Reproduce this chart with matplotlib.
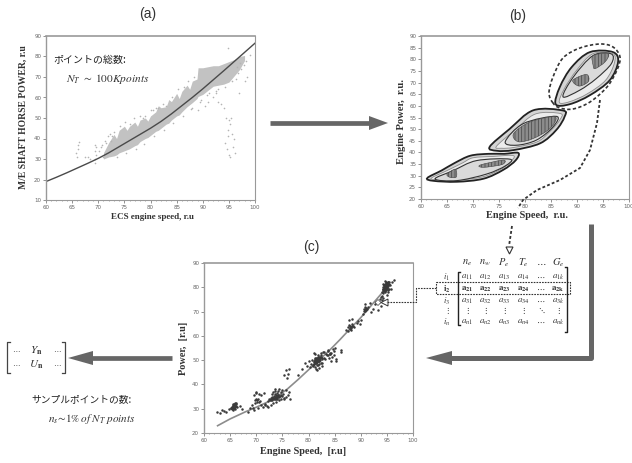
import matplotlib
matplotlib.use("Agg")
import matplotlib.pyplot as plt
from matplotlib.path import Path
from matplotlib.patches import PathPatch, Rectangle, Polygon

plt.rcParams['mathtext.fontset'] = 'stix'
plt.rcParams['font.family'] = ['Liberation Serif', 'DejaVu Sans']
plt.rcParams['hatch.linewidth'] = 0.5
plt.rcParams['hatch.color'] = '#333333'
JP = ['Noto Sans CJK JP', 'DejaVu Sans']
W, H = 632, 463

# ---------------- data (a)
curve_a_x = [60, 62, 64, 66, 68, 70, 72, 74, 76, 78, 80, 82, 84, 86, 88, 90, 92, 94, 96, 98, 100]
curve_a_y = [19, 21.1, 23.3, 25.6, 27.9, 30.3, 33, 36, 39, 42, 45, 48.3, 52, 56, 60, 64.2, 68.6, 73, 77.5, 82, 86.5]
band_x = [71, 72, 73, 73.5, 74, 75, 75.5, 76, 77, 77.5, 78, 79, 79.5, 80, 81, 81.5, 82, 83, 83.5, 84, 85, 85.5, 86, 87, 87.5, 88, 88.9, 89.1, 90, 91, 92, 93, 94, 95, 96, 97, 98]
band_lo = [30, 31, 31.5, 32, 33, 34, 34.5, 35, 36.5, 37, 38.5, 40, 40.5, 41.5, 43.5, 44, 45, 47, 47.5, 49, 51, 51.5, 53, 55.5, 56.5, 57.5, 59.5, 60.5, 61.5, 63.5, 65.5, 66, 66.5, 67.5, 70.5, 73.5, 78]
band_hi = [33, 38, 42, 40, 44, 46, 44, 46, 48, 46, 49, 50, 48.5, 51, 53, 56, 55, 55.5, 59, 58, 62, 59.5, 63, 66, 64, 68, 69, 74.5, 74.5, 75, 75.5, 75.5, 76.5, 77.5, 78.5, 80, 80.5]
sparse_a_x = [66, 66.2, 66.1, 66.3, 65.8, 69.3, 69.4, 69.5, 69.3, 69.6, 69.4, 68, 68.5, 67.5, 71.5, 71.8, 72.2, 72.4, 78.5, 80.5, 81.5, 83,
              88, 89, 90.5, 91, 92, 92.5, 93, 93.5, 94, 94.5, 95, 95.2, 95.5, 94.8, 95.6, 96, 94.3, 94.6, 95.1, 95.8, 96.2, 95.3, 94.9, 97, 98, 98.5, 99, 94.9,
              70.2, 70.6, 71, 70.8, 71.3, 72.6, 73, 74.2, 75.2, 76, 76.8, 78, 79, 80, 81, 82.4, 84.2, 85.2, 86.4, 87.2, 88.4,
              73.6, 75.4, 77.2, 78.8, 80.6, 82.6, 84.4, 86.2, 87.8, 89.4, 90.8, 92.6, 94.2, 95.6, 96.4, 96.8, 97.4, 97.8, 98.2, 96.6, 97.2, 89.6, 91.2, 93]
sparse_a_y = [31, 35, 37, 38.5, 33, 28, 30, 32, 34, 36, 37, 31, 30, 31, 38, 41, 42, 39, 50, 54, 55, 56,
              55, 54, 56, 58, 60, 62, 58, 57, 55, 50, 49, 47, 50, 41, 42, 40, 38, 35, 32, 36, 33, 31, 44, 62, 68, 70, 80.5, 84,
              34, 36, 31, 37, 39, 41, 43, 46, 48, 47, 50, 51, 51, 54, 55, 57, 60, 64, 65, 68, 70,
              31, 33, 35, 37.5, 41, 44, 47.5, 51, 54.5, 58, 61, 63, 65, 68, 69, 72, 74, 76, 78, 75, 77, 59, 62, 64]

# ---------------- data (b) : contour outlines
lobe1_x = [61.2, 64, 66.5, 69.5, 73, 76, 78.7, 78.2, 75.8, 72, 66.9, 62.4]
lobe1_y = [29, 32.3, 35.5, 38.6, 39.4, 39.4, 39.8, 36.6, 32.5, 28.7, 27.4, 27.8]
lobe1_mid_x = [62, 65, 68, 70, 74, 77.8, 77, 75.2, 71.8, 67, 63]
lobe1_mid_y = [29, 32.2, 35.5, 37.7, 38.3, 38.6, 35.5, 32.6, 29.5, 28.2, 28.3]
lobe1_in_x = [62.7, 66.2, 70.7, 77.1, 76.2, 72.6, 66.9]
lobe1_in_y = [28.6, 32.2, 36.5, 37.1, 34.2, 30.7, 27.9]
core1a_x = [65, 66.6, 66.8, 65.6]
core1a_y = [30.6, 32.8, 29.5, 29.3]
core1b_x = [71.4, 75.8, 75.6, 72]
core1b_y = [34.6, 36.7, 34.8, 33.6]
lobe2_x = [73.2, 77, 81.6, 87.3, 87.6, 86, 82.9, 77.8, 74.6]
lobe2_y = [42.4, 50, 58.1, 58, 55.3, 49.6, 43.9, 41, 40.7]
lobe2_mid_x = [74.5, 78, 82, 86.8, 86.7, 85, 82.4, 78, 75.5]
lobe2_mid_y = [42.6, 49.5, 56.5, 56.7, 54, 49.5, 44.6, 42.2, 41.8]
lobe2_in_x = [76.2, 79.7, 86, 85.4, 82.2, 78.4]
lobe2_in_y = [44.6, 52.4, 55.5, 51, 45.3, 43.1]
core2_x = [77.8, 81, 85.8, 84.8, 81.6, 78.7]
core2_y = [48.1, 53.1, 55.3, 50.3, 46, 44.6]
lobe3_x = [85.9, 86.7, 89, 92.5, 96.9, 97.9, 96.3, 92.5, 88.6]
lobe3_y = [60.7, 68.1, 76.7, 83.1, 83.1, 78.9, 71, 64.6, 60.7]
lobe3_mid_x = [86.6, 87.6, 90, 93, 96.8, 97.2, 95.5, 92, 88.6]
lobe3_mid_y = [61.5, 67.5, 75.5, 82.3, 82.6, 78.5, 71, 65.2, 61.8]
lobe3_in_x = [87.3, 89.3, 93.1, 96.6, 96.6, 93.7, 90.5]
lobe3_in_y = [63.9, 72.4, 81.6, 82.3, 78.1, 71.7, 66.7]
core3a_x = [93.1, 96, 95.4, 93.5, 93.1]
core3a_y = [81.6, 82.3, 78.9, 76, 77.4]
core3b_x = [89.2, 91.8, 92.2, 90.4]
core3b_y = [71, 73.5, 70.5, 68.5]
ellipse_px = [(553, 103), (549, 93), (553, 77), (563, 58), (580, 48), (600, 44), (613, 47), (620, 57), (617, 70), (607, 87), (590, 102), (573, 109), (560, 108)]

# ---------------- data (c)
line_c_x = [62.6, 65, 68, 70, 72, 74, 76, 78, 80, 82, 84, 86, 88, 90, 92, 94, 95]
line_c_y = [23, 25.8, 28.8, 30.6, 32.6, 35, 38.2, 42, 46, 50, 54, 58.4, 63, 67.5, 72.5, 77.5, 80]
pts_c_x = [62.5, 63, 63.4, 63.9, 64.3, 64.8, 65.1, 65.3, 65.4, 65.6, 65.7, 65.8, 65.9, 66, 66.1, 66.2, 65.2, 65.5, 65.9, 66.1, 66.3, 65.6, 66.8, 67.2,
           68.4, 68.8, 69.1, 69.3, 69.5, 69.7, 69.8, 70, 70.1, 70.2, 70.4, 70.6, 70.8, 69.6, 70, 70.3, 71, 71.3, 71.5, 71.7, 72, 72.2,
           69.9, 70.5, 71, 71.7, 72.3, 72.4, 72.6, 72.8, 73, 73.1, 73.2, 73.4, 73.5, 73.6, 73.7, 73.8, 74, 74.1, 74.3, 74.5, 74.7, 75, 75.2, 75.4, 75.6, 76, 76.3,
           72.9, 73.2, 73.5, 73.8, 74.2, 74.4, 74.7, 75, 75.3, 73, 73.5, 74, 74.4, 74.8, 73.3, 73.7, 74.1, 72.8, 75.7, 76.4,
           75.4, 75.7, 75.9, 76.1, 76.2, 78, 78.7, 79.3, 79.7, 80, 80.2, 80.4, 80.6, 80.8, 81, 81.1, 81.2, 81.3, 81.4, 81.5, 81.6, 81.7, 81.8, 81.9, 82, 82.1, 82.2, 82.3, 82.4, 82.5, 82.6, 82.7,
           81.2, 81.4, 81.6, 81.8, 82, 82.2, 82.4, 81.5, 81.7, 81.9, 82.1, 82.3, 81.3, 82.6, 80.8, 81, 81.6, 82, 82.5, 82.9, 83, 83.2, 83.5, 83.7, 84, 84.2, 84.4, 84.6, 84.8, 85, 85.3, 83.4, 83.8, 84.1, 84.5, 84.9, 85.2, 86.2, 86.3,
           87.2, 87.5, 87.7, 87.9, 88, 88.2, 88.4, 88.6, 87.8, 88.1, 87.5, 88.3, 88.8, 89.2, 89.5, 89.8, 90, 90.4, 90.6, 90.7, 90.8, 90.9, 91, 91.1, 91.2, 90.8, 91.3, 91.7, 92, 92.4, 92.7, 93, 93.3, 93.6, 93.4, 93.8,
           94, 94.2, 94.3, 94.4, 94.5, 94.6, 94.7, 94.8, 94.9, 95, 95.1, 95.2, 95.3, 95.4, 94.2, 94.4, 94.6, 94.8, 95, 95.2, 95.4, 94.3, 94.5, 94.7, 94.9, 95.1, 95.3, 95.5, 94.1, 94.6, 95, 95.6, 95.8, 96, 96.4, 93.9, 94, 94.2,
           # tight centres of the clusters
           65.4, 65.6, 65.8, 66, 65.5, 65.7, 65.9, 73, 73.3, 73.6, 73.9, 74.2, 73.1, 73.4, 73.7, 74, 72.8, 81, 81.3, 81.6, 81.9, 82.2, 81.1, 81.4, 81.7, 82, 81.5, 81.8, 82.1, 81.2, 83.8, 84.1, 84.4,
           94.3, 94.6, 94.9, 95.2, 94.4, 94.7, 95, 95.3, 94.5, 94.8, 95.1, 94.2, 94.6, 95, 87.9, 88.1, 88.3, 90.9, 91]
pts_c_y = [28.8, 28.2, 29.5, 29.2, 28.7, 29.8, 30.2, 30.8, 29.8, 31.5, 30.5, 32, 31, 32.4, 31.2, 32.5, 30.5, 32, 30, 31.8, 30.9, 29.5, 31, 30,
           28.5, 30.5, 31.5, 30.2, 29.5, 32.5, 33.5, 34, 32.8, 33.4, 33.8, 32.6, 33.3, 35.8, 36.5, 30.4, 31.5, 30.8, 36.5, 32, 31, 33,
           37, 36, 35.5, 31.5, 30.8, 34, 33.5, 34.5, 35, 33.8, 34.6, 35.2, 34, 36, 34.8, 35.5, 34.2, 35.8, 34.7, 35.2, 36.8, 35.4, 36.2, 33.8, 37.8, 35.5, 37,
           33.5, 36.8, 37.5, 33.8, 37.2, 33.5, 34, 37.7, 34.5, 36.2, 38, 36.5, 38.3, 35.5, 32.5, 32.8, 35.6, 31.5, 34.8, 34.2,
           44, 46, 42.5, 44.5, 46.5, 44, 46.5, 49, 47.5, 49.5, 47, 48.5, 50, 47.5, 49.8, 48.5, 51, 47.2, 49, 50.5, 47.8, 50, 48.2, 49.5, 51, 48.5, 50, 52, 49, 50.5, 48.8, 53.5,
           52.5, 46.5, 50.8, 52, 49.5, 51.5, 52.8, 49.2, 49.8, 50.2, 50.6, 51.2, 50.2, 51, 48.2, 53, 46, 46.8, 47.6, 51, 53.5, 50.6, 52, 53.8, 51, 52.6, 49.8, 54.5, 52, 55, 50.5, 52.6, 54, 52.8, 51.5, 53.8, 49.5, 54, 53.2,
           62.5, 63.5, 64.5, 62.8, 64.2, 63.2, 65, 64, 66.5, 62.5, 62, 67, 63.8, 65.5, 66, 64.8, 66.6, 69, 70.2, 71.2, 72, 70.8, 71.5, 70.5, 71, 73.2, 71.8, 73.5, 70, 71, 73, 74, 70.5, 75.2, 73.8, 72.5,
           78, 79.5, 77.5, 80, 78.5, 81, 79.2, 80.5, 78.8, 81.5, 79.8, 80.8, 82, 79.5, 81.2, 80, 78.2, 81.8, 80.2, 79, 82.2, 79, 80.8, 78.5, 82, 81, 78.2, 81.4, 76.5, 82.4, 77, 81, 79.5, 82, 83, 76, 74.6, 75.5,
           30.8, 31.2, 31.6, 31.9, 30.2, 30.5, 30.9, 34.2, 34.5, 34.8, 35, 35.2, 33.6, 34, 34.3, 34.6, 34.2, 49.2, 49.6, 50, 50.4, 50.8, 48.6, 49, 49.4, 49.8, 50.8, 51.2, 51.5, 50.4, 52, 52.4, 52.8,
           79.2, 79.6, 80, 80.4, 80.8, 81.2, 81.6, 82, 78.8, 79.2, 79.6, 80, 80.4, 80.8, 63.2, 63.6, 64, 70.4, 70.9]

# ---------------- matrix
col_heads = [r'$n_e$', r'$n_w$', r'$P_e$', r'$T_e$', r'$\cdots$', r'$G_e$']
row_heads = [r'$i_1$', r'$\mathbf{i_2}$', r'$i_3$', r'$\vdots$', r'$i_n$']
matrix_rows = [[r'$a_{11}$', r'$a_{12}$', r'$a_{13}$', r'$a_{14}$', r'$\cdots$', r'$a_{1k}$'],
               [r'$\mathbf{a_{21}}$', r'$\mathbf{a_{22}}$', r'$\mathbf{a_{23}}$', r'$\mathbf{a_{24}}$', r'$\cdots$', r'$\mathbf{a_{2k}}$'],
               [r'$a_{31}$', r'$a_{32}$', r'$a_{33}$', r'$a_{34}$', r'$\cdots$', r'$a_{3k}$'],
               [r'$\vdots$', r'$\vdots$', r'$\vdots$', r'$\vdots$', r'$\ddots$', r'$\vdots$'],
               [r'$a_{n1}$', r'$a_{n2}$', r'$a_{n3}$', r'$a_{n4}$', r'$\cdots$', r'$a_{nk}$']]


def smooth_path(xs, ys):
    """Closed Bezier outline passing through the read outline points."""
    n = len(xs)
    verts = [(xs[0], ys[0])]
    codes = [Path.MOVETO]
    for i in range(n):
        p0 = (xs[i - 1], ys[i - 1])
        p1 = (xs[i], ys[i])
        p2 = (xs[(i + 1) % n], ys[(i + 1) % n])
        p3 = (xs[(i + 2) % n], ys[(i + 2) % n])
        verts.append((p1[0] + (p2[0] - p0[0]) / 6, p1[1] + (p2[1] - p0[1]) / 6))
        verts.append((p2[0] - (p3[0] - p1[0]) / 6, p2[1] - (p3[1] - p1[1]) / 6))
        verts.append(p2)
        codes += [Path.CURVE4] * 3
    return Path(verts, codes)


fig = plt.figure(figsize=(W / 100, H / 100), dpi=100)
fig.patch.set_facecolor('white')


def make_axes(l, r, t, b, xlim, ylim, xstep, ystep):
    ax = fig.add_axes([l / W, 1 - b / H, (r - l) / W, (b - t) / H])
    ax.set_xlim(*xlim)
    ax.set_ylim(*ylim)
    ax.set_xticks(range(xlim[0], xlim[1] + 1, xstep))
    ax.set_yticks(range(ylim[0], ylim[1] + 1, ystep))
    ax.set_xticks(range(xlim[0], xlim[1] + 1), minor=True)
    ax.tick_params(which='major', labelsize=4, labelcolor='#666666', length=2, width=0.5, color='#666666', pad=1.5)
    ax.tick_params(which='minor', length=1, width=0.4, color='#666666')
    for lab in ax.get_xticklabels() + ax.get_yticklabels():
        lab.set_family('DejaVu Sans')
    for s in ax.spines.values():
        s.set_color('#999999')
        s.set_linewidth(0.8)
    ax.spines['top'].set_linewidth(1.2)
    ax.spines['left'].set_linewidth(1.0)
    return ax


# (a)
a = make_axes(46, 255, 36, 200, (60, 100), (10, 90), 5, 10)
a.fill_between(band_x, band_lo, band_hi, color='#c2c2c2', lw=0)
a.scatter(sparse_a_x, sparse_a_y, s=1.4, color='#b4b4b4', lw=0)
a.plot(curve_a_x, curve_a_y, color='#4a4a4a', lw=1.0)

# (b)
b = make_axes(421, 629, 36, 199, (60, 100), (20, 90), 5, 5)
lobes = [(lobe1_x, lobe1_y, lobe1_mid_x, lobe1_mid_y, lobe1_in_x, lobe1_in_y, [(core1a_x, core1a_y), (core1b_x, core1b_y)]),
         (lobe2_x, lobe2_y, lobe2_mid_x, lobe2_mid_y, lobe2_in_x, lobe2_in_y, [(core2_x, core2_y)]),
         (lobe3_x, lobe3_y, lobe3_mid_x, lobe3_mid_y, lobe3_in_x, lobe3_in_y, [(core3a_x, core3a_y), (core3b_x, core3b_y)])]
for ox, oy, mx, my, ix, iy, cores in lobes:
    b.add_patch(PathPatch(smooth_path(ox, oy), fc='#d4d4d4', ec='#222222', lw=1.3))
    b.add_patch(PathPatch(smooth_path(mx, my), fc='#ececec', ec='#8a8a8a', lw=0.6))
    b.add_patch(PathPatch(smooth_path(ix, iy), fc='#dadada', ec='#333333', lw=0.8))
    for cx, cy in cores:
        b.add_patch(PathPatch(smooth_path(cx, cy), fc='#8c8c8c', ec='#444444', lw=0.4, hatch='|||||'))

# (c)
c = make_axes(204, 413, 263, 433, (60, 100), (20, 90), 5, 10)
c.plot(line_c_x, line_c_y, color='#8c8c8c', lw=1.2, zorder=1)
c.scatter(pts_c_x, pts_c_y, s=3.2, color='#3a3a3a', lw=0, zorder=2)

# overlay in picture pixels
ov = fig.add_axes([0, 0, 1, 1], facecolor='none')
ov.set_xlim(0, W)
ov.set_ylim(H, 0)
ov.axis('off')

for x, y, s in [(148, 14, '(a)'), (518, 16, '(b)'), (311, 247, '(c)')]:
    ov.text(x, y, s, family=['Liberation Sans'], fontsize=10, color='#333333', ha='center', va='center')

lab = dict(family=['Liberation Serif'], fontweight='bold', color='#333333', ha='center', va='center')
ov.text(152, 217, 'ECS engine speed, r.u', fontsize=6.5, **lab)
ov.text(23, 117, 'M/E SHAFT HORSE POWER, r.u', fontsize=6.9, rotation=90, **lab)
ov.text(527, 216, 'Engine Speed,  r.u.', fontsize=7.4, **lab)
ov.text(402, 122, 'Engine Power,  r.u.', fontsize=7.7, rotation=90, **lab)
ov.text(303, 452, 'Engine Speed,  [r.u]', fontsize=7.4, **lab)
ov.text(184, 348, 'Power,  [r.u]', fontsize=7.4, rotation=90, **lab)

ov.text(53, 60, 'ポイントの総数:', family=JP, fontsize=7.2, color='#222222', va='center')
ov.text(66, 79, r'$N_T\ \sim\ 100Kpoints$', fontsize=8.2, color='#333333', va='center')
ov.text(82, 399, 'サンプルポイントの数:', family=JP, fontsize=7, color='#222222', ha='center', va='center')
ov.text(92, 419, r'$n_s\!\sim\!1\%\,of\ N_T\ points$', fontsize=8, color='#333333', ha='center', va='center')

# big arrows
arrow_c = '#666666'
ov.plot([270, 372], [123, 123], color=arrow_c, lw=3.4, solid_capstyle='butt')
ov.add_patch(Polygon([(388, 123), (369, 116), (369, 130)], fc=arrow_c, ec='none'))
ov.plot([591, 591, 450], [224, 358, 358], color=arrow_c, lw=3.6, solid_joinstyle='round', solid_capstyle='butt')
ov.add_patch(Polygon([(426, 358), (452, 351), (452, 365)], fc=arrow_c, ec='none'))
ov.plot([172, 92], [358, 358], color=arrow_c, lw=3.4, solid_capstyle='butt')
ov.add_patch(Polygon([(68, 358), (93, 351), (93, 365)], fc=arrow_c, ec='none'))

# dashed ellipse and dashed leader
ov.add_patch(PathPatch(smooth_path([p[0] for p in ellipse_px], [p[1] for p in ellipse_px]), fc='none', ec='#333333', lw=1.2, ls=(0, (2, 1.4))))
ov.plot([600, 597, 590, 580, 560, 537, 523, 518], [100, 123, 150, 168, 180, 190, 200, 208], color='#333333', lw=1.3, ls=(0, (1.6, 1.2)))
ov.plot([512, 509], [226, 246], color='#333333', lw=1.3, ls=(0, (1.6, 1.2)))
ov.add_patch(Polygon([(506, 247), (513, 247), (509.5, 254)], fc='white', ec='#333333', lw=0.8))

# matrix
col_x = [467, 485, 504, 523, 541, 558]
for x, s in zip(col_x, col_heads):
    ov.text(x, 263, s, fontsize=7.5, color='#333333', ha='center', va='center')
row_y = [277, 289, 301, 311, 322]
for y, s, row in zip(row_y, row_heads, matrix_rows):
    ov.text(447, y, s, fontsize=6.5, color='#444444', ha='center', va='center')
    for x, t in zip(col_x, row):
        ov.text(x, y, t, fontsize=6.5, color='#333333', ha='center', va='center')
ov.plot([460, 458, 458, 460], [272, 272, 325, 325], color='#222222', lw=1.0)
ov.plot([565, 567, 567, 565], [267, 267, 332, 332], color='#222222', lw=1.0)
ov.add_patch(Rectangle((436, 282), 134, 12, fc='none', ec='#333333', lw=0.8, ls=(0, (1.5, 1))))
ov.plot([436, 416, 416, 386], [288, 288, 302, 302], color='#333333', lw=0.8, ls=(0, (1.5, 1)))
ov.add_patch(Polygon([(381, 302.5), (388, 299), (388, 306)], fc='white', ec='#333333', lw=0.7))
ov.add_patch(Polygon([(375, 302.5), (378, 299.5), (381, 302.5), (378, 305.5)], fc='white', ec='#444444', lw=0.5))

# left matrix
ov.plot([10, 7, 7, 10], [342, 342, 373, 373], color='#444444', lw=0.9)
ov.plot([62, 65, 65, 62], [342, 342, 373, 373], color='#444444', lw=0.9)
for y, s in [(351, r'$\mathbf{\mathit{Y}_n}$'), (365, r'$\mathbf{\mathit{U}_n}$')]:
    ov.text(16, y, r'$\cdots$', fontsize=6, color='#555555', ha='center', va='center')
    ov.text(36, y, s, fontsize=8, color='#333333', ha='center', va='center')
    ov.text(57, y, r'$\cdots$', fontsize=6, color='#555555', ha='center', va='center')

fig.savefig('out.png', dpi=100)
